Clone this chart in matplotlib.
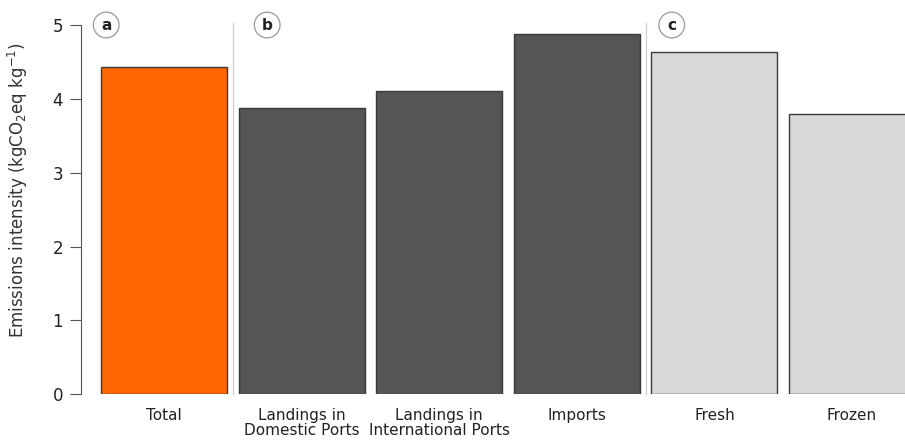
import matplotlib
matplotlib.use("Agg")
import matplotlib.pyplot as plt
import numpy as np

# values
categories = ["Total", "Landings in\nDomestic Ports", "Landings in\nInternational Ports",
              "Imports", "Fresh", "Frozen"]
intensity = [4.43, 3.87, 4.10, 4.88, 4.64, 3.80]
bar_colors = ["#FF6600", "#555555", "#555555", "#555555", "#D9D9D9", "#D9D9D9"]
panel_labels = ["a", "b", "c"]

plt.rcParams["font.family"] = ["DejaVu Sans"]

fig = plt.figure(figsize=(9.05, 4.41), dpi=100)
ax = fig.add_axes([81 / 905, (441 - 394.3) / 441, 1 - 81 / 905, (394.3 - 25) / 441])

x = np.arange(len(categories))
ax.bar(x, intensity, width=0.915, color=bar_colors, edgecolor="#3a3a3a", linewidth=1.0)

# group separators
for sep in [0.5, 3.5]:
    ax.plot([sep, sep], [0, 5.03], color="#cfcfcf", linewidth=0.9, clip_on=False)

# panel letters
for lab, px in zip(panel_labels, [-0.42, 0.75, 3.69]):
    ax.text(px, 5.0, lab, ha="center", va="center", fontsize=11, fontweight="bold",
            color="#222222",
            bbox=dict(boxstyle="circle,pad=0.35", facecolor="white", edgecolor="#999999",
                      linewidth=0.9))

ax.set_xlim(-0.603, 5.385)
ax.set_ylim(0, 5)
ax.set_yticks([0, 1, 2, 3, 4, 5])
ax.set_xticks(x)
ax.set_xticklabels(categories, fontsize=11, color="#222222", linespacing=0.95)
ax.tick_params(axis="x", length=0, pad=10)
ax.tick_params(axis="y", length=8, width=0.8, color="#555555", labelsize=12,
               labelcolor="#222222", pad=5)

for s in ["top", "right", "bottom"]:
    ax.spines[s].set_visible(False)
ax.spines["left"].set_color("#555555")
ax.spines["left"].set_linewidth(0.8)
ax.spines["left"].set_bounds(0, 5)

ax.set_ylabel(r"Emissions intensity (kgCO$\mathregular{_2}$eq kg$\mathregular{^{-1}}$)",
              fontsize=12, color="#333333")
ax.yaxis.set_label_coords(-0.062, 0.553)

fig.savefig("out.png", dpi=100)
